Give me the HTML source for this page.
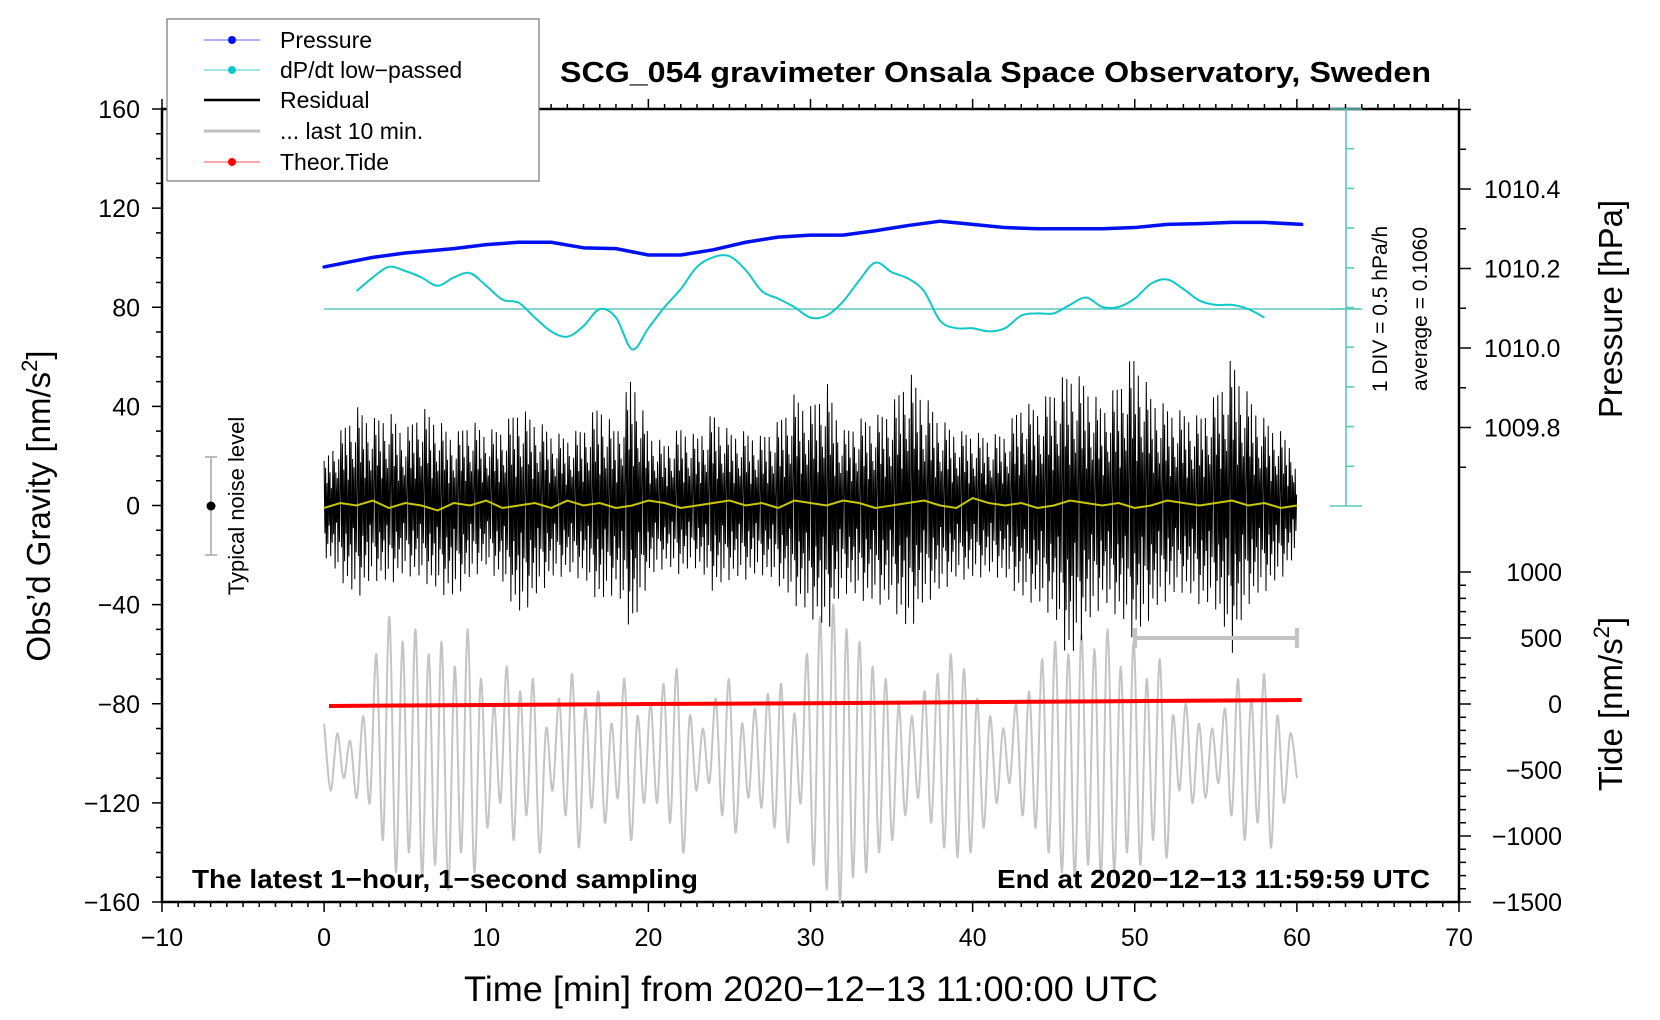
<!DOCTYPE html>
<html><head><meta charset="utf-8"><style>
html,body{margin:0;padding:0;background:#fff;}
svg{display:block;font-family:"Liberation Sans",sans-serif;}
</style></head><body>
<svg id="chart" width="1660" height="1020" viewBox="0 0 1660 1020" xmlns="http://www.w3.org/2000/svg">
<rect x="0" y="0" width="1660" height="1020" fill="#fff"/>
<g id="axes"></g>
<g id="series"></g>
<g id="overlay"></g>
</svg>
<script>
// ---- data ----
const pressTimes = [0,2,3,5,8,10,12,14,16,18,20,22,24,26,28,30,32,34,36,38,40,42,44,46,48,50,52,54,56,58,60.3];
const pressValues = [1010.204,1010.220,1010.228,1010.239,1010.250,1010.260,1010.266,1010.266,1010.252,1010.250,1010.234,1010.234,1010.247,1010.266,1010.279,1010.284,1010.284,1010.295,1010.308,1010.319,1010.311,1010.303,1010.300,1010.300,1010.300,1010.303,1010.311,1010.313,1010.316,1010.316,1010.311];
const dpdtStart = 2;
const dpdtValues = [0.331,0.504,0.637,0.585,0.504,0.398,0.504,0.558,0.398,0.224,0.184,-0.002,-0.176,-0.243,-0.109,0.105,-0.002,-0.403,-0.136,0.131,0.358,0.637,0.757,0.771,0.597,0.331,0.237,0.131,-0.002,0.024,0.198,0.464,0.690,0.571,0.491,0.331,-0.043,-0.136,-0.136,-0.176,-0.136,0.024,0.051,0.051,0.158,0.251,0.131,0.131,0.237,0.425,0.478,0.358,0.211,0.158,0.158,0.105,-0.002];
const dpdtAverage = 0.1060;
const residTop = [18,30,40,35,38,30,40,35,28,35,30,32,40,35,30,28,32,42,30,55,30,25,32,28,38,30,30,28,34,45,40,50,30,35,36,40,55,45,35,30,30,28,30,42,40,48,55,50,40,50,62,45,40,38,36,45,60,45,35,30,22];
const residBottom = [-20,-30,-38,-30,-32,-28,-30,-35,-38,-30,-25,-32,-45,-38,-30,-28,-30,-40,-35,-52,-30,-25,-28,-25,-35,-30,-30,-28,-32,-40,-45,-52,-35,-38,-40,-40,-52,-40,-35,-30,-30,-28,-30,-38,-40,-45,-65,-50,-40,-45,-55,-45,-38,-35,-40,-42,-60,-40,-35,-30,-20];
const residShape = [1,-0.55,0.8,-1,0.45,-0.7,0.95,-0.35,0.6,-0.85,0.3,-0.6,0.9,-0.45,0.7,-0.95,0.5,-0.25,0.4,-0.8,0.65,-0.5,0.2];
const smoothValues = [-1,1,0,2,-1,1,0,-2,1,0,2,-1,0,1,-1,2,0,1,-1,0,2,1,-1,0,1,2,0,1,-1,2,1,0,2,1,-1,0,1,2,0,-1,3,1,0,1,-1,0,2,1,0,1,-1,0,2,1,0,1,2,0,1,-1,0];
const lastTenPairs = [[-88,-115],[-92,-110],[-95,-118],[-85,-120],
[-60,-135],[-45,-148],[-55,-140],[-50,-150],[-60,-145],[-55,-155],[-65,-140],[-50,-148],[-70,-130],
[-80,-120],[-65,-135],[-75,-125],[-70,-140],[-90,-115],[-78,-125],[-68,-138],[-82,-122],[-75,-128],[-88,-118],[-70,-135],[-85,-120],
[-80,-120],[-72,-128],[-66,-140],[-85,-115],[-90,-112],[-78,-125],[-70,-132],[-88,-118],[-82,-122],[-76,-130],[-72,-136],[-84,-120],
[-60,-145],[-45,-155],[-40,-160],[-50,-150],[-55,-148],[-65,-140],[-70,-135],[-80,-125],
[-85,-118],[-75,-128],[-68,-138],[-60,-142],[-66,-140],[-78,-130],[-85,-120],[-90,-112],[-80,-125],[-75,-130],
[-62,-140],[-55,-148],[-60,-150],[-52,-145],[-58,-150],[-50,-148],[-65,-140],[-55,-145],[-70,-135],[-62,-142],
[-85,-115],[-80,-120],[-88,-118],[-90,-112],[-82,-125],[-70,-135],[-78,-128],[-68,-138],[-85,-120],[-92,-110]];
const tideTimes = [0.3,10,20,30,40,50,60.3];
const tideValues = [-15,-8,0,6,14,22,30];
const xTicks = [-10,0,10,20,30,40,50,60,70];
const yTicks = [-160,-120,-80,-40,0,40,80,120,160];
const pTicks = ["1009.8","1010.0","1010.2","1010.4"];
const tideTicks = [-1500,-1000,-500,0,500,1000];

// ---- scales ----
const X0=162, X1=1459, Y0=109, Y1=902;
const sx = t => X0 + (t+10)/80*(X1-X0);
const sy = v => Y1 - (v+160)/320*(Y1-Y0);
const sp = p => 348 - (p-1010.0)*397.5;
const st = v => 704 - v*0.132;
const sd = v => 309 - (v-dpdtAverage)/0.5*39.7;

const NS="http://www.w3.org/2000/svg";
function mk(tag, parent, attrs){const e=document.createElementNS(NS,tag);for(const k in attrs)e.setAttribute(k,attrs[k]);parent.appendChild(e);return e;}
const axes=document.getElementById('axes'), series=document.getElementById('series'), overlay=document.getElementById('overlay');

function smoothPath(pts){
  let d="M"+pts[0][0].toFixed(1)+","+pts[0][1].toFixed(1);
  for(let i=0;i<pts.length-1;i++){
    const p0=pts[Math.max(0,i-1)],p1=pts[i],p2=pts[i+1],p3=pts[Math.min(pts.length-1,i+2)];
    const c1=[p1[0]+(p2[0]-p0[0])/6,p1[1]+(p2[1]-p0[1])/6],c2=[p2[0]-(p3[0]-p1[0])/6,p2[1]-(p3[1]-p1[1])/6];
    d+="C"+c1[0].toFixed(1)+","+c1[1].toFixed(1)+" "+c2[0].toFixed(1)+","+c2[1].toFixed(1)+" "+p2[0].toFixed(1)+","+p2[1].toFixed(1);
  }
  return d;
}

// ---- gray last 10 min ----
{
  const pts=[]; const n=lastTenPairs.length*2;
  lastTenPairs.forEach((pr,i)=>{
    pts.push([sx(i*2/(n-1)*60), sy(pr[0])]);
    pts.push([sx((i*2+1)/(n-1)*60), sy(pr[1])]);
  });
  const e=mk('path',series,{d:smoothPath(pts),fill:'none',stroke:'#c4c4c4','stroke-width':2});
  
  
}
// ---- residual ----
{
  let d=""; let k=0;
  for(let t=0;t<=60;t+=0.045,k++){
    const i=Math.min(59,Math.floor(t)), f=t-i;
    const top=residTop[i]*(1-f)+residTop[i+1]*f, bot=residBottom[i]*(1-f)+residBottom[i+1]*f;
    const s=residShape[k%residShape.length];
    const v = s>0 ? s*top : -s*bot;
    d+=(k?"L":"M")+sx(t).toFixed(1)+","+sy(v).toFixed(1);
  }
  const e=mk('path',series,{d:d,fill:'none',stroke:'#000','stroke-width':1});
  
  
}
// ---- smoothed residual (yellow) ----
{
  const pts=smoothValues.map((v,i)=>[sx(i),sy(v)]);
  const e=mk('polyline',series,{points:pts.map(p=>p.join(',')).join(' '),fill:'none',stroke:'#c8c800','stroke-width':2});
  
  
}
// ---- dP/dt ----
{
  const base=mk('line',series,{x1:sx(0),x2:1360,y1:sd(dpdtAverage),y2:sd(dpdtAverage),stroke:'#5cc8c0','stroke-width':1.6});
  
  
  const pts=dpdtValues.map((v,i)=>[sx(dpdtStart+i),sd(v)]);
  const e=mk('path',series,{d:smoothPath(pts),fill:'none',stroke:'#10c8c8','stroke-width':2});
  
  
}
// ---- pressure ----
{
  const pts=pressTimes.map((t,i)=>[sx(t),sp(pressValues[i])]);
  const e=mk('polyline',series,{points:pts.map(p=>p.join(',')).join(' '),fill:'none',stroke:'#0010f0','stroke-width':3.5,'stroke-linejoin':'round','stroke-linecap':'round'});
  
  
}
// ---- tide ----
{
  const pts=tideTimes.map((t,i)=>[sx(t),st(tideValues[i])]);
  const e=mk('polyline',series,{points:pts.map(p=>p.join(',')).join(' '),fill:'none',stroke:'#ff0000','stroke-width':4});
  
  
}

// ---- axes ----
{
  const frame=mk('rect',axes,{x:X0,y:Y0,width:X1-X0,height:Y1-Y0,fill:'none',stroke:'#000','stroke-width':2.5});
  
  
  let d="";
  for(let t=-10;t<=70;t++){const L=t%10===0?10:5;const x=sx(t);d+=`M${x},${Y1}v${L}M${x},${Y0}v${-L}`;}
  for(let v=-160;v<=160;v+=10){const L=v%40===0?10:6;d+=`M${X0},${sy(v)}h${-L}`;}
  for(let p=1009.7;p<=1010.61;p+=0.1){const L=Math.abs(Math.round(p*10)%2)===0?12:7;d+=`M${X1},${sp(p).toFixed(1)}h${L}`;}
  for(let v=-1500;v<=1000;v+=100){const L=v%500===0?12:7;d+=`M${X1},${st(v).toFixed(1)}h${L}`;}
  mk('path',axes,{d:d,stroke:'#000','stroke-width':1.5,fill:'none'});
  xTicks.forEach(t=>{const e=mk('text',axes,{x:sx(t),y:946,'text-anchor':'middle','font-size':25});e.textContent=String(t).replace('-','\u2212');
    });
  yTicks.forEach(v=>{const e=mk('text',axes,{x:140,y:sy(v)+9,'text-anchor':'end','font-size':25});e.textContent=String(v).replace('-','\u2212');
    });
  pTicks.forEach(p=>{const e=mk('text',axes,{x:1484,y:sp(+p)+9,'font-size':25});e.textContent=p;
    });
  tideTicks.forEach(v=>{const e=mk('text',axes,{x:1562,y:st(v)+9,'text-anchor':'end','font-size':25});e.textContent=String(v).replace('-','\u2212');
    });
  // cyan scale axis
  let c=`M1346,${Y0}V506M1330,${Y0}h32M1330,506h32M1330,309h32`;
  for(let i=1;i<10;i++){c+=`M1346,${(Y0+i*39.7).toFixed(1)}h8`;}
  const ca=mk('path',axes,{d:c,stroke:'#5cc8c0','stroke-width':1.6,fill:'none'});
  
  
}
</script>
<script>
const ov=document.getElementById('overlay');
ov.innerHTML = `
<g stroke="#bbb" stroke-width="2">
<line x1="211" y1="457" x2="211" y2="555"/><line x1="205" y1="457" x2="217" y2="457"/><line x1="205" y1="555" x2="217" y2="555"/></g>
<circle cx="211" cy="506" r="4.5" fill="#000"/>
<text transform="translate(244,506) rotate(-90)" text-anchor="middle" font-size="22">Typical noise level</text>
<g stroke="#c4c4c4" stroke-width="4">
<line x1="1135" y1="638" x2="1297" y2="638"/><line x1="1135" y1="628" x2="1135" y2="648"/><line x1="1297" y1="628" x2="1297" y2="648"/></g>
<text transform="translate(1387,309) rotate(-90)" text-anchor="middle" font-size="21">1 DIV = 0.5 hPa/h</text>
<text transform="translate(1427,309) rotate(-90)" text-anchor="middle" font-size="21">average = 0.1060</text>
<text x="560" y="82" font-size="29" font-weight="bold" textLength="871" lengthAdjust="spacingAndGlyphs">SCG_054 gravimeter Onsala Space Observatory, Sweden</text>
<text x="192" y="888" font-size="26" font-weight="bold" textLength="506" lengthAdjust="spacingAndGlyphs">The latest 1−hour, 1−second sampling</text>
<text x="997" y="888" font-size="26" font-weight="bold" textLength="433" lengthAdjust="spacingAndGlyphs">End at 2020−12−13 11:59:59 UTC</text>
<text transform="translate(50,506) rotate(-90)" text-anchor="middle" font-size="33">Obs’d Gravity [nm/s<tspan font-size="22" dy="-13">2</tspan><tspan dy="13">]</tspan></text>
<text transform="translate(1622,309) rotate(-90)" text-anchor="middle" font-size="33">Pressure [hPa]</text>
<text transform="translate(1622,704) rotate(-90)" text-anchor="middle" font-size="33">Tide [nm/s<tspan font-size="22" dy="-13">2</tspan><tspan dy="13">]</tspan></text>
<text x="811" y="1001" text-anchor="middle" font-size="35" textLength="694" lengthAdjust="spacingAndGlyphs">Time [min] from 2020−12−13 11:00:00 UTC</text>
<g>
<rect x="167" y="19" width="372" height="162" fill="#fff" stroke="#777" stroke-width="1.2"/>
<g><line x1="204" x2="260" y1="40" y2="40" stroke="#5060ff" stroke-width="1"/><circle cx="232" cy="40" r="4" fill="#0010f0"/><text x="280" y="48" font-size="23">Pressure</text></g>
<g><line x1="204" x2="260" y1="70" y2="70" stroke="#40d0d0" stroke-width="1"/><circle cx="232" cy="70" r="4" fill="#10c8c8"/><text x="280" y="78" font-size="23">dP/dt low−passed</text></g>
<g><line x1="204" x2="260" y1="100" y2="100" stroke="#000" stroke-width="2.5"/><text x="280" y="108" font-size="23">Residual</text></g>
<g><line x1="204" x2="260" y1="131" y2="131" stroke="#c0c0c0" stroke-width="3"/><text x="280" y="139" font-size="23">... last 10 min.</text></g>
<g><line x1="204" x2="260" y1="162" y2="162" stroke="#ff5050" stroke-width="1"/><circle cx="232" cy="162" r="4" fill="#ff0000"/><text x="280" y="170" font-size="23">Theor.Tide</text></g>
</g>`;
</script>
</body></html>
